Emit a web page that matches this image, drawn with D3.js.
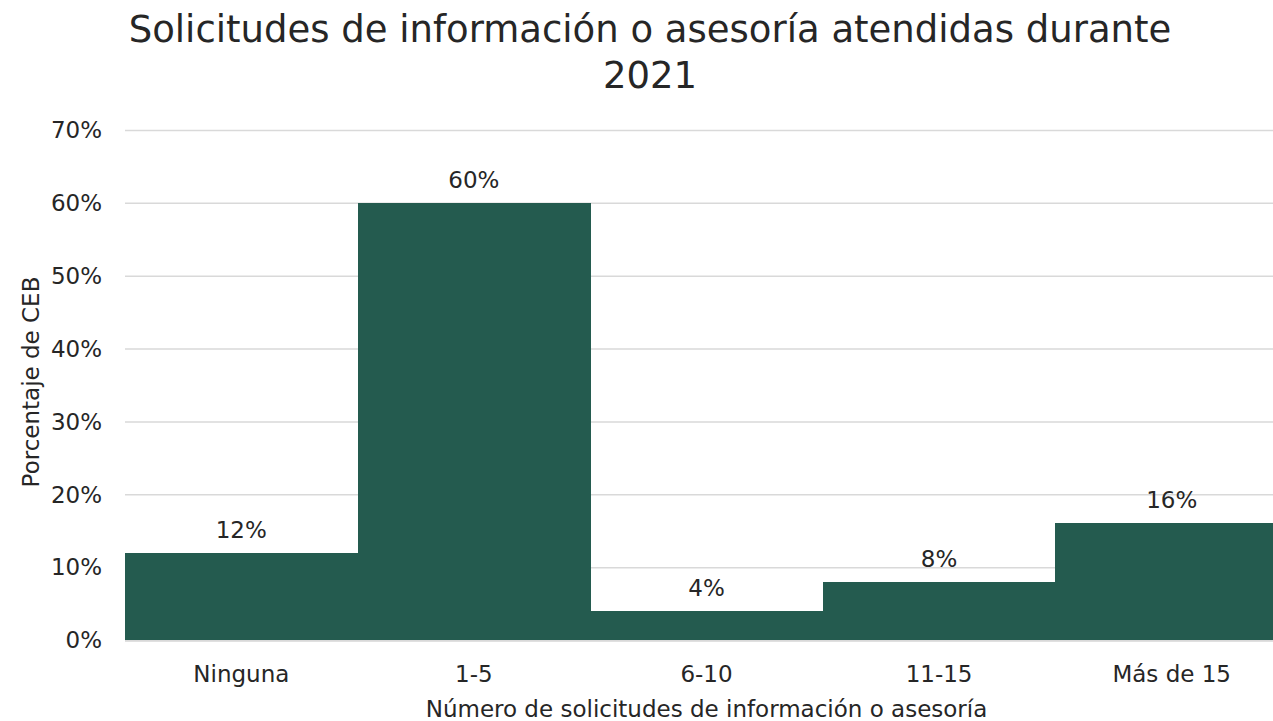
<!DOCTYPE html>
<html>
  <head>
    <meta charset="utf-8">
    <title>Solicitudes de información</title>
    <style>
    body { margin: 0; background: #fff; }
    text { font-family: "DejaVu Sans", sans-serif; fill: #262626; }
    .grid line { stroke: #d9d9d9; stroke-width: 1.5; }
    .grid path { display: none; }
    .bar { fill: #245b4f; shape-rendering: crispEdges; }
    </style>
  </head>
  <body>
    <svg width="1273" height="721"></svg>
    <script src="https://d3js.org/d3.v7.min.js"></script>
    <script>

      var categories = ["Ninguna", "1-5", "6-10", "11-15", "Más de 15"];
      var values = [0.12, 0.60, 0.04, 0.08, 0.16];
      var yTicks = [0, 0.1, 0.2, 0.3, 0.4, 0.5, 0.6, 0.7];

      var svg = d3.select("svg"),
          margin = {top: 130, right: -15, bottom: 81, left: 125},
          width = +svg.attr("width") - margin.left - margin.right,
          height = +svg.attr("height") - margin.top - margin.bottom;

      var x = d3.scaleBand().domain(categories).range([0, width]).padding(0),
          y = d3.scaleLinear().domain([0, 0.7]).range([height, 0]);

      var pct = d3.format(".0%");
      var fs = "23px";

      var g = svg.append("g")
          .attr("transform", "translate(" + margin.left + "," + margin.top + ")");

      // gridlines
      g.append("g")
          .attr("class", "grid")
          .call(d3.axisLeft(y).tickValues(yTicks).tickSize(-width).tickFormat(""));

      // y tick labels
      g.selectAll(".ylab")
        .data(yTicks)
        .enter().append("text")
          .attr("class", "ylab")
          .attr("x", -23)
          .attr("y", function(d) { return y(d); })
          .attr("dy", "0.36em")
          .attr("text-anchor", "end")
          .style("font-size", fs)
          .text(function(d) { return pct(d); });

      g.selectAll(".bar")
        .data(values)
        .enter().append("rect")
          .attr("class", "bar")
          .attr("x", function(d, i) { return x(categories[i]); })
          .attr("y", function(d) { return y(d); })
          .attr("width", x.bandwidth() + 0.5)
          .attr("height", function(d) { return height - y(d); });

      // baseline
      g.append("line")
          .attr("x1", 0).attr("x2", width)
          .attr("y1", height + 1).attr("y2", height + 1)
          .attr("stroke", "#d9d9d9")
          .attr("stroke-width", 1.5);

      // value labels
      g.selectAll(".val")
        .data(values)
        .enter().append("text")
          .attr("class", "val")
          .attr("x", function(d, i) { return x(categories[i]) + x.bandwidth() / 2; })
          .attr("y", function(d) { return y(d) - 15; })
          .attr("text-anchor", "middle")
          .style("font-size", fs)
          .text(function(d) { return pct(d); });

      // x tick labels
      g.selectAll(".xlab")
        .data(categories)
        .enter().append("text")
          .attr("class", "xlab")
          .attr("x", function(d) { return x(d) + x.bandwidth() / 2; })
          .attr("y", height + 42)
          .attr("text-anchor", "middle")
          .style("font-size", fs)
          .text(function(d) { return d; });

      // axis titles
      g.append("text")
          .attr("x", width / 2)
          .attr("y", height + 77)
          .attr("text-anchor", "middle")
          .style("font-size", fs)
          .text("Número de solicitudes de información o asesoría");

      g.append("text")
          .attr("transform", "rotate(-90)")
          .attr("x", -252)
          .attr("y", -86)
          .attr("text-anchor", "middle")
          .style("font-size", fs)
          .text("Porcentaje de CEB");

      // title
      var title = svg.append("text")
          .attr("text-anchor", "middle")
          .style("font-size", "37px");
      title.append("tspan")
          .attr("x", 650).attr("y", 42)
          .text("Solicitudes de información o asesoría atendidas durante");
      title.append("tspan")
          .attr("x", 650).attr("y", 88)
          .text("2021");

  </script>
  </body>
</html>
